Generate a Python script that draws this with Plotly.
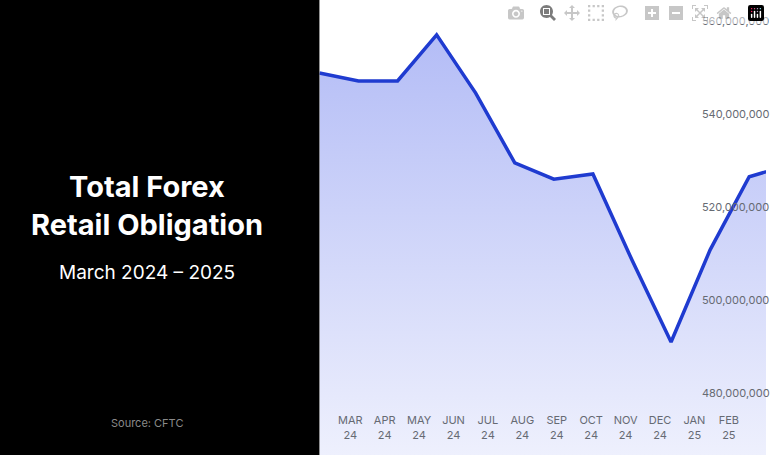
import plotly.graph_objects as go

values = [548.8, 547.1, 547.1, 557.0, 544.5, 529.5, 526.0, 527.1, 508.6, 491.0, 510.8, 526.5, 529.0]
values = [v * 1e6 for v in values]
months = ["MAR<br>24", "APR<br>24", "MAY<br>24", "JUN<br>24", "JUL<br>24", "AUG<br>24", "SEP<br>24",
          "OCT<br>24", "NOV<br>24", "DEC<br>24", "JAN<br>25", "FEB<br>25", "MAR<br>25"]
yticks = [480e6, 500e6, 520e6, 540e6, 560e6]
ytext = ["480,000,000", "500,000,000", "520,000,000", "540,000,000", "560,000,000"]

FONT = "Inter"
fig = go.Figure()
fig.add_trace(go.Scatter(
    x=list(range(len(values))), y=values, mode="lines",
    line=dict(color="#1f3bd0", width=3.5),
    fill="tozeroy",
    fillgradient=dict(type="vertical", start=466.7e6, stop=558e6,
                      colorscale=[[0, "#eef0fd"], [1, "#b3bcf6"]]),
    hoverinfo="skip", showlegend=False,
))
fig.add_trace(go.Scatter(x=[0], y=[values[0]], xaxis="x2", mode="markers",
                         marker=dict(opacity=0), showlegend=False, hoverinfo="skip"))

fig.update_layout(
    width=770, height=455, margin=dict(l=0, r=0, t=0, b=0),
    paper_bgcolor="white", plot_bgcolor="rgba(0,0,0,0)",
    font=dict(family=FONT),
    xaxis=dict(domain=[0.417, 1], range=[0, 11.43], showgrid=False, zeroline=False,
               showticklabels=False, showline=False),
    xaxis2=dict(overlaying="x", anchor="free", position=0.094, range=[-0.896, 12.08],
                tickvals=list(range(len(months))), ticktext=months, showgrid=False,
                zeroline=False, showline=False, ticks="",
                tickfont=dict(size=11, color="#666a73", family=FONT)),
    yaxis=dict(range=[466.7e6, 564.5e6], domain=[0, 1], showgrid=False, zeroline=False,
               tickvals=yticks, ticktext=ytext, anchor="free", position=0.915, side="right",
               ticks="", showline=False, tickfont=dict(size=11, color="#666a73", family=FONT)),
    shapes=[dict(type="rect", xref="paper", yref="paper", x0=0, x1=0.417, y0=0, y1=1,
                 fillcolor="black", line=dict(width=0), layer="above")],
    annotations=[
        dict(text="<b>Total Forex<br>Retail Obligation</b>", xref="paper", yref="paper",
             x=148/770, y=1-206/455, xanchor="center", yanchor="middle", showarrow=False,
             font=dict(size=29, color="white", family=FONT), align="center"),
        dict(text="March 2024 – 2025", xref="paper", yref="paper", x=148/770, y=1-272/455,
             xanchor="center", yanchor="middle", showarrow=False,
             font=dict(size=19, color="white", family=FONT)),
        dict(text="Source: CFTC", xref="paper", yref="paper", x=148/770, y=1-423/455,
             xanchor="center", yanchor="middle", showarrow=False,
             font=dict(size=11, color="#8a8a8a", family=FONT)),
    ],
)
fig.write_html("out.html", post_script="document.body.style.margin='0';")
